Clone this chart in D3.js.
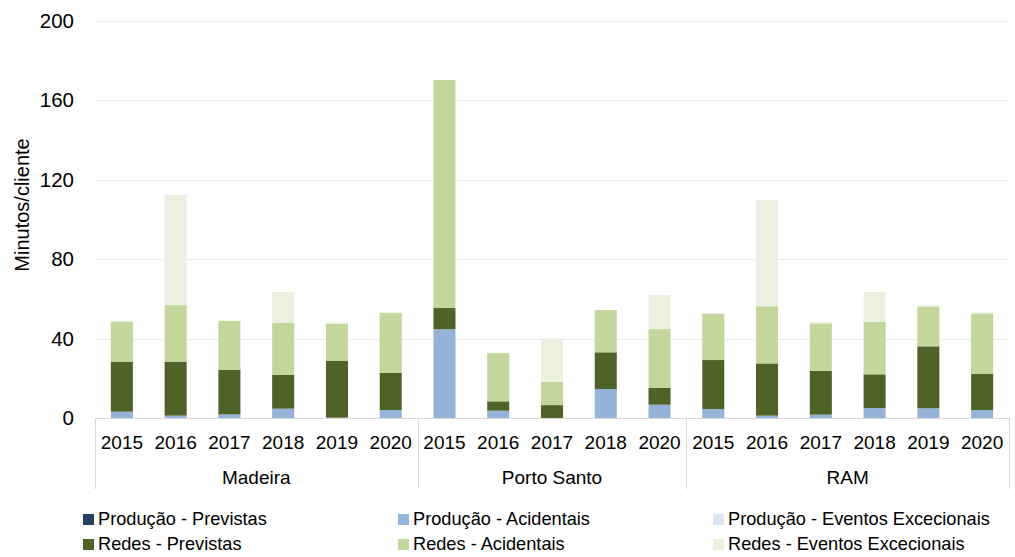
<!DOCTYPE html>
<html>
<head>
<meta charset="utf-8">
<script src="https://cdn.jsdelivr.net/npm/d3@7/dist/d3.min.js"></script>
<style>
  html, body { margin: 0; padding: 0; background: #fff; }
  svg { display: block; font-family: Arial, "Liberation Sans", sans-serif; }
</style>
</head>
<body>
<svg id="chart" width="1015" height="557"></svg>
<script>
// Regions and the years reported for each
const groups = ["Madeira", "Porto Santo", "RAM"];
const groupYears = [
  ["2015", "2016", "2017", "2018", "2019", "2020"],
  ["2015", "2016", "2017", "2018", "2020"],
  ["2015", "2016", "2017", "2018", "2019", "2020"]
];

// Interruption duration (minutes per client), one value per region/year
const producaoPrevistas   = [0, 0, 0, 0, 0, 0,  0, 0, 0, 0, 0,  0, 0, 0, 0, 0, 0];
const producaoAcidentais  = [3.2, 1.2, 1.8, 4.7, 0.2, 4.0,  44.7, 3.7, 0, 14.6, 6.7,  4.5, 1.2, 1.7, 5.0, 4.9, 4.0];
const producaoExcecionais = [0, 0, 0, 0, 0, 0,  0, 0, 0, 0, 0,  0, 0, 0, 0, 0, 0];
const redesPrevistas      = [25.2, 27.2, 22.5, 17.1, 28.7, 18.7,  10.7, 4.7, 6.5, 18.5, 8.6,  24.7, 26.3, 22.1, 17.0, 31.2, 18.3];
const redesAcidentais     = [20.1, 28.5, 24.6, 26.2, 18.6, 30.3,  114.9, 24.3, 11.8, 21.3, 29.5,  23.3, 28.8, 23.9, 26.5, 20.0, 30.4];
const redesExcecionais    = [0.5, 55.6, 0.3, 15.5, 0.7, 0.3,  0, 0, 21.8, 0, 17.2,  0.3, 53.5, 0.7, 15.0, 0.8, 0.5];

const seriesNames = [
  "Produção - Previstas", "Produção - Acidentais", "Produção - Eventos Excecionais",
  "Redes - Previstas", "Redes - Acidentais", "Redes - Eventos Excecionais"
];
const seriesColors = ["#254061", "#95b3d7", "#dce6f2", "#4f6228", "#c3d69b", "#ebf1de"];
const yTicks = [0, 40, 80, 120, 160, 200];

const seriesValues = [producaoPrevistas, producaoAcidentais, producaoExcecionais,
                      redesPrevistas, redesAcidentais, redesExcecionais];

// Flatten the region/year pairs into rows for stacking
const rows = [];
groups.forEach((g, gi) => groupYears[gi].forEach(yr => rows.push({ key: g + "|" + yr, group: g, year: yr })));
rows.forEach((r, i) => seriesNames.forEach((s, si) => { r[s] = seriesValues[si][i]; }));

const svg = d3.select("#chart");
const plotLeft = 95, plotRight = 1009, plotTop = 21, plotBottom = 418;

const x = d3.scaleBand().domain(rows.map(r => r.key)).range([plotLeft, plotRight])
  .paddingInner(0.59).paddingOuter(0.295);
const y = d3.scaleLinear().domain([0, 200]).range([plotBottom, plotTop]);

// Horizontal gridlines
svg.append("g").selectAll("line").data(yTicks.filter(t => t > 0)).join("line")
  .attr("x1", plotLeft).attr("x2", plotRight)
  .attr("y1", d => Math.round(y(d)) + 0.5).attr("y2", d => Math.round(y(d)) + 0.5)
  .attr("stroke", "#ececec").attr("stroke-width", 1);

// Y axis tick labels
const yAxis = d3.axisLeft(y).tickValues(yTicks).tickSize(0).tickPadding(0);
const yg = svg.append("g").attr("transform", `translate(${plotLeft - 21},0)`).call(yAxis);
yg.select(".domain").remove();
yg.selectAll("text").attr("font-size", 20.5).attr("fill", "#000").attr("font-family", "Arial, 'Liberation Sans', sans-serif");

// Y axis title
svg.append("text")
  .attr("transform", `translate(29,205) rotate(-90)`)
  .attr("text-anchor", "middle")
  .attr("font-size", 20)
  .attr("fill", "#000")
  .text("Minutos/cliente");

// Stacked bars
const stack = d3.stack().keys(seriesNames);
const stacked = stack(rows);
svg.append("g").selectAll("g").data(stacked).join("g")
  .attr("fill", (d, i) => seriesColors[i])
  .selectAll("rect").data(d => d).join("rect")
  .attr("x", d => x(d.data.key))
  .attr("width", x.bandwidth())
  .attr("y", d => y(d[1]))
  .attr("height", d => Math.max(0, y(d[0]) - y(d[1])));

// Category axis: baseline, region separators, year and region labels
const axisColor = "#d9d9d9";
svg.append("line").attr("x1", plotLeft).attr("x2", plotRight)
  .attr("y1", plotBottom + 0.5).attr("y2", plotBottom + 0.5)
  .attr("stroke", axisColor);

const xAxis = d3.axisBottom(x).tickSize(0).tickPadding(0).tickFormat(k => k.split("|")[1]);
const xg = svg.append("g").attr("transform", `translate(0,${plotBottom})`).call(xAxis);
xg.select(".domain").remove();
xg.selectAll("text").attr("font-size", 19).attr("fill", "#000")
  .attr("font-family", "Arial, 'Liberation Sans', sans-serif")
  .attr("dy", null).attr("y", 31);

const sep = [plotLeft];
let idx = 0;
groupYears.forEach((ys, gi) => {
  const first = rows[idx].key, last = rows[idx + ys.length - 1].key;
  const x0 = x(first) - x.step() * x.paddingInner() / 2;
  const x1 = x(last) + x.bandwidth() + x.step() * x.paddingInner() / 2;
  sep.push(gi === groupYears.length - 1 ? plotRight : x1);
  svg.append("text")
    .attr("x", ((gi === 0 ? plotLeft : x0) + (gi === groupYears.length - 1 ? plotRight : x1)) / 2)
    .attr("y", 484)
    .attr("text-anchor", "middle")
    .attr("font-size", 19)
    .attr("fill", "#000")
    .text(groups[gi]);
  idx += ys.length;
});
svg.append("g").selectAll("line").data(sep).join("line")
  .attr("x1", d => Math.round(d) + 0.5).attr("x2", d => Math.round(d) + 0.5)
  .attr("y1", plotBottom).attr("y2", 489)
  .attr("stroke", axisColor);

// Legend
const legendCols = [83, 398, 713];
const legendRows = [525, 550];
const legend = svg.append("g").selectAll("g").data(seriesNames).join("g")
  .attr("transform", (d, i) => `translate(${legendCols[i % 3]},${legendRows[Math.floor(i / 3)]})`);
legend.append("rect").attr("x", 0).attr("y", -11).attr("width", 11).attr("height", 11)
  .attr("fill", (d, i) => seriesColors[i]);
legend.append("text").attr("x", 15).attr("y", 0)
  .attr("font-size", 18.2).attr("fill", "#000")
  .text(d => d);
</script>
</body>
</html>
